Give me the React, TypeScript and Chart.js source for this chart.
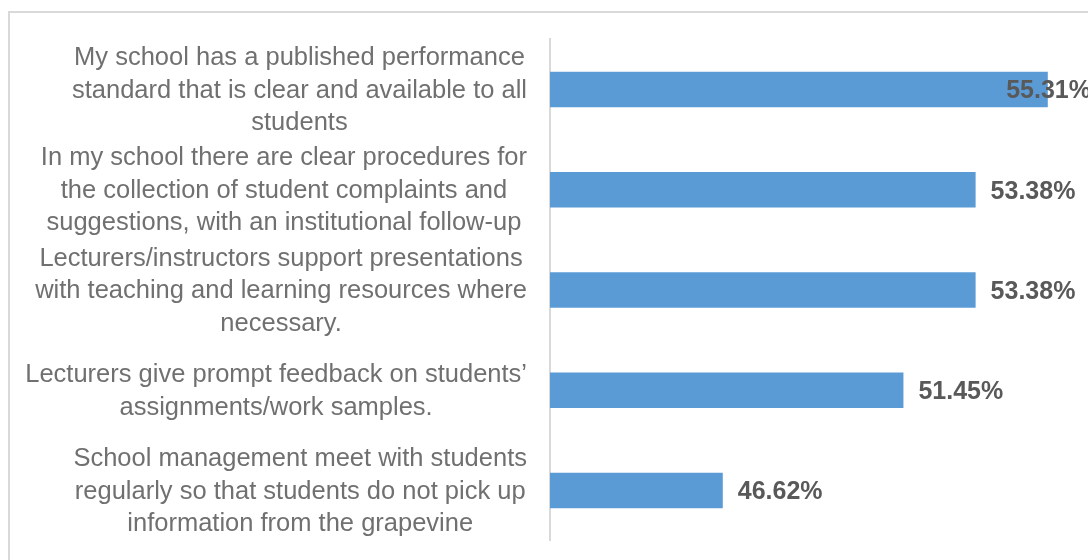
import React, { useEffect, useRef } from "react";
import { Chart, registerables } from "chart.js";

Chart.register(...registerables);

const categoryLines: string[][] = [
  ["My school has a published performance", "standard that is clear and available to all", "students"],
  ["In my school there are clear procedures for", "the collection of student complaints and", "suggestions, with an institutional follow-up"],
  ["Lecturers/instructors support presentations", "with teaching and learning resources where", "necessary."],
  ["Lecturers give prompt feedback on students’", "assignments/work samples."],
  ["School management meet with students", "regularly so that students do not pick up", "information from the grapevine"],
];
const values: number[] = [55.31, 53.38, 53.38, 51.45, 46.62];
const axisMin = 42;
const axisMax = 56;

const FONT = '"Liberation Sans", Arial, sans-serif';

const framePlugin = {
  id: "frame",
  beforeDraw(chart: any) {
    const ctx = chart.ctx;
    ctx.save();
    ctx.fillStyle = "#ffffff";
    ctx.fillRect(0, 0, chart.width, chart.height);
    ctx.strokeStyle = "#d9d9d9";
    ctx.lineWidth = 2;
    ctx.strokeRect(9, 12, chart.width + 20, chart.height + 20);
    ctx.restore();
  },
};

const labelsPlugin = {
  id: "customLabels",
  afterDatasetsDraw(chart: any) {
    const ctx = chart.ctx;
    const yScale = chart.scales.y;
    const area = chart.chartArea;
    ctx.save();
    // category labels: block right-aligned, lines centred within block
    ctx.font = `25.5px ${FONT}`;
    ctx.fillStyle = "#707070";
    ctx.textAlign = "center";
    ctx.textBaseline = "middle";
    const lineH = 32.5;
    const rightEdge = area.left - 23;
    categoryLines.forEach((lines, i) => {
      const cy = yScale.getPixelForValue(i);
      const widest = Math.max(...lines.map((l) => ctx.measureText(l).width));
      const cx = rightEdge - widest / 2;
      const y0 = cy - ((lines.length - 1) * lineH) / 2;
      lines.forEach((l, j) => ctx.fillText(l, cx, y0 + j * lineH + 1));
    });
    // value labels
    ctx.font = `bold 25px ${FONT}`;
    ctx.fillStyle = "#595959";
    ctx.textAlign = "left";
    const meta = chart.getDatasetMeta(0);
    meta.data.forEach((bar: any, i: number) => {
      const txt = values[i].toFixed(2) + "%";
      const w = ctx.measureText(txt).width;
      const x = Math.min(bar.x + 15, chart.width + 3 - w);
      ctx.fillText(txt, x, bar.y + 2);
    });
    ctx.restore();
  },
};

export default function App() {
  const ref = useRef<HTMLCanvasElement>(null);
  useEffect(() => {
    if (!ref.current) return;
    const chart = new Chart(ref.current, {
      type: "bar",
      data: {
        labels: categoryLines.map((l) => l.join(" ")),
        datasets: [
          {
            data: values,
            backgroundColor: "#5b9bd5",
            borderWidth: 0,
            barPercentage: 0.354,
            categoryPercentage: 1,
          },
        ],
      },
      options: {
        indexAxis: "y",
        animation: false,
        responsive: false,
        devicePixelRatio: 1,
        layout: { padding: { left: 550, right: 14.4, top: 39.4, bottom: 19.4 } },
        plugins: { legend: { display: false }, tooltip: { enabled: false } },
        scales: {
          x: {
            display: false,
            min: axisMin,
            max: axisMax,
          },
          y: {
            display: true,
            ticks: { display: false },
            grid: { display: false, drawTicks: false },
            border: { display: true, color: "#d9d9d9", width: 2 },
          },
        },
      },
      plugins: [framePlugin, labelsPlugin],
    });
    return () => chart.destroy();
  }, []);
  return (
    <div style={{ position: "fixed", left: 0, top: 0, width: 1088, height: 560, background: "#fff" }}>
      <canvas ref={ref} width={1088} height={560} style={{ display: "block" }} />
    </div>
  );
}
